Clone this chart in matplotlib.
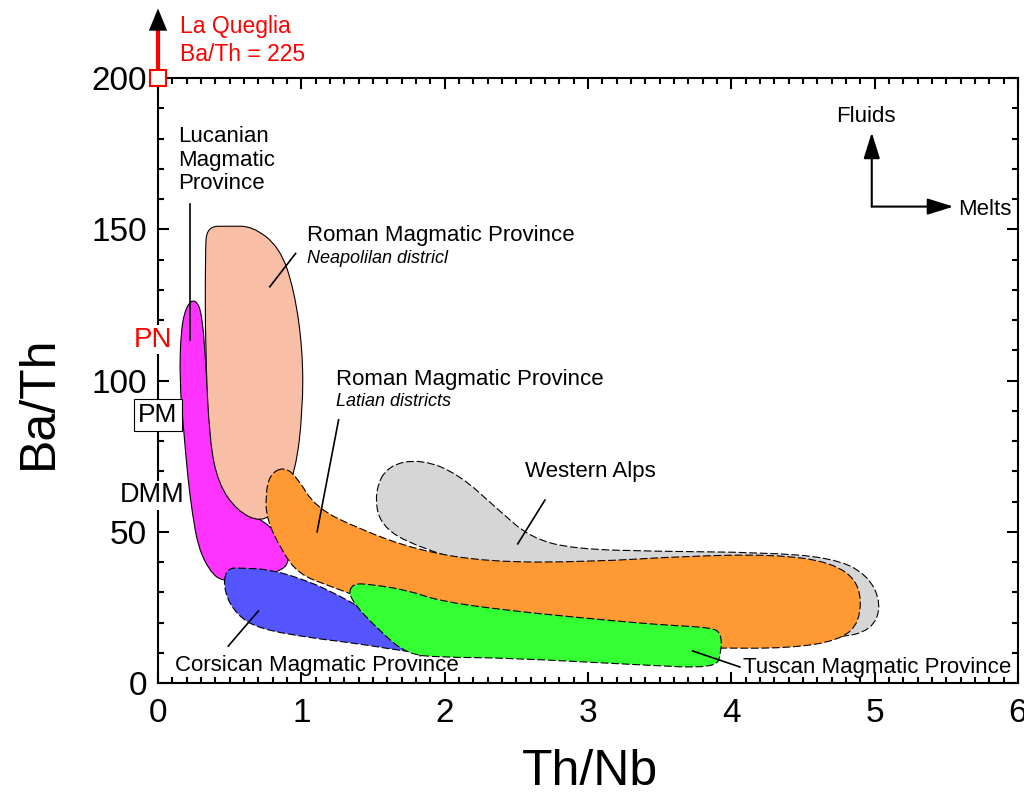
import numpy as np
import matplotlib.pyplot as plt
from matplotlib.path import Path
from matplotlib.patches import PathPatch
from matplotlib.ticker import MultipleLocator

plt.rcParams['font.family'] = ['Liberation Sans', 'DejaVu Sans']

# field outlines (Th/Nb, Ba/Th)
alps_x = [1.60, 1.84, 2.10, 2.38, 2.60, 2.90, 3.50, 4.20, 4.70, 4.95, 5.05, 4.98, 4.75, 4.40, 3.50, 2.50, 1.80, 1.55, 1.51]
alps_y = [72, 74, 69, 57, 48, 44.3, 43.5, 43.2, 41.5, 36, 26, 17.5, 14.8, 16, 25, 35, 45, 52, 63]

lucania_x = [0.26, 0.31, 0.34, 0.38, 0.55, 0.80, 0.92, 0.88, 0.60, 0.45, 0.36, 0.28, 0.24, 0.21, 0.18, 0.15, 0.16, 0.20]
lucania_y = [127, 122, 100, 75, 58, 52, 42, 37, 34.5, 33.5, 37, 45, 56, 67, 83, 100, 117, 125]

naples_x = [0.34, 0.50, 0.66, 0.85, 0.95, 1.01, 1.01, 0.96, 0.85, 0.72, 0.55, 0.42, 0.36, 0.33, 0.33]
naples_y = [151, 151, 151, 144, 130, 110, 90, 70, 58, 53, 57, 66, 80, 110, 142]

corsica_x = [0.47, 0.60, 0.78, 1.00, 1.20, 1.45, 1.70, 1.85, 1.72, 1.40, 1.05, 0.70, 0.55, 0.46]
corsica_y = [38, 38, 37.5, 34.5, 30.5, 24, 16, 10, 10.5, 13, 15, 18, 22.5, 30]

latium_x = [0.88, 0.97, 1.10, 1.40, 1.80, 2.30, 3.00, 3.70, 4.30, 4.70, 4.90, 4.90, 4.75, 4.40, 3.90, 3.00, 2.20, 1.60, 1.20, 0.98, 0.86, 0.76, 0.75, 0.78]
latium_y = [71.5, 68, 58, 51, 44, 40, 40, 42, 42.5, 40, 33, 20, 14, 11.5, 11.5, 12, 16, 25, 32, 36, 44, 54, 62, 69]

tuscany_x = [1.35, 1.50, 1.74, 1.97, 2.44, 2.90, 3.36, 3.60, 3.86, 3.93, 3.93, 3.89, 3.36, 2.44, 1.97, 1.74, 1.55, 1.33]
tuscany_y = [33, 32.5, 30.7, 27, 24, 21.8, 19.8, 19.0, 18.3, 16.5, 10, 4.8, 6, 8.3, 8.5, 9.5, 17, 28]

fields = [
    (alps_x, alps_y, '#d6d6d6', '--'),
    (lucania_x, lucania_y, '#ff33ff', '-'),
    (naples_x, naples_y, '#f9bfa6', '-'),
    (corsica_x, corsica_y, '#5555ff', '--'),
    (latium_x, latium_y, '#ff9933', '--'),
    (tuscany_x, tuscany_y, '#33ff33', '--'),
]

# mantle reference values on the Ba/Th axis
ref_names = ['PN', 'PM', 'DMM']
ref_y = [113.5, 88.5, 62]


def smooth_patch(xs, ys, **kw):
    # closed quadratic b-spline through the outline points
    pts = np.column_stack([xs, ys])
    mids = (pts + np.roll(pts, -1, axis=0)) / 2
    verts = [mids[-1]]
    codes = [Path.MOVETO]
    for p, m in zip(pts, mids):
        verts += [p, m]
        codes += [Path.CURVE3, Path.CURVE3]
    return PathPatch(Path(verts, codes), **kw)


fig = plt.figure(figsize=(10.24, 7.93), dpi=100)
ax = fig.add_axes([0.1543, 0.1387, 0.8398, 0.7629])

for i, (fx, fy, col, ls) in enumerate(fields):
    ls = (0, (7, 2.5)) if ls == '--' else '-'
    ax.add_patch(smooth_patch(fx, fy, facecolor=col, edgecolor='black',
                              lw=0.8, linestyle=ls, zorder=1 + i * 0.1))

# leader lines
leaders = [
    ([0.22, 0.22], [158.5, 113.5]),
    ([0.78, 0.96], [131, 142]),
    ([1.11, 1.26], [50, 87]),
    ([2.51, 2.70], [46, 60.5]),
    ([0.49, 0.70], [12.2, 23.8]),
    ([3.73, 4.06], [10.6, 5.3]),
]
for lx, ly in leaders:
    ax.plot(lx, ly, color='black', lw=1.2, zorder=2)

fs = 16
ax.text(0.14, 184, 'Lucanian\nMagmatic\nProvince', fontsize=fs, va='top', linespacing=1.15)
ax.text(1.04, 148, 'Roman Magmatic Province', fontsize=fs, va='center')
ax.text(1.04, 140.5, 'Neapolilan districl', fontsize=13, style='italic', va='center')
ax.text(1.24, 100.5, 'Roman Magmatic Province', fontsize=fs, va='center')
ax.text(1.24, 93, 'Latian districts', fontsize=13, style='italic', va='center')
ax.text(2.56, 70, 'Western Alps', fontsize=fs, va='center')
ax.text(0.12, 5.8, 'Corsican Magmatic Province', fontsize=fs, va='center')
ax.text(4.08, 5.0, 'Tuscan Magmatic Province', fontsize=fs, va='center')

# fluids / melts arrows
arrow_kw = dict(arrowstyle='-|>,head_length=0.8,head_width=0.25', color='black',
                lw=1.5, mutation_scale=20, shrinkA=0, shrinkB=0)
ax.annotate('', xy=(4.98, 182), xytext=(4.98, 157.5), arrowprops=arrow_kw)
ax.annotate('', xy=(5.55, 157.5), xytext=(4.98, 157.5), arrowprops=arrow_kw)
ax.text(4.94, 187.4, 'Fluids', fontsize=fs, ha='center', va='center')
ax.text(5.58, 156.4, 'Melts', fontsize=fs, va='center')

# PN / PM / DMM labels on the y axis
ax.text(-0.035, ref_y[0], ref_names[0], fontsize=20, color='red', ha='center', va='center',
        bbox=dict(boxstyle='square,pad=0.05', fc='white', ec='none'), zorder=5)
ax.text(0.0, ref_y[1], ref_names[1], fontsize=19, ha='center', va='center',
        bbox=dict(boxstyle='square,pad=0.15', fc='white', ec='black', lw=0.8), zorder=5)
ax.text(-0.04, ref_y[2], ref_names[2], fontsize=19.5, ha='center', va='center',
        bbox=dict(boxstyle='square,pad=0.05', fc='white', ec='none'), zorder=5)

# La Queglia sample, off scale
ax.plot([0, 0], [203, 216], color='red', lw=3, clip_on=False, zorder=6)
ax.annotate('', xy=(0, 223), xytext=(0, 215),
            arrowprops=dict(arrowstyle='-|>,head_length=0.8,head_width=0.33', color='black',
                            lw=0, mutation_scale=20, shrinkA=0, shrinkB=0),
            annotation_clip=False, zorder=6)
ax.plot([0], [200], marker='s', ms=12, mfc='white', mec='red', mew=1.5, clip_on=False, zorder=7)
ax.text(0.15, 221, 'La Queglia\nBa/Th = 225', fontsize=16.5, color='red', va='top', linespacing=1.3)

ax.set_xlim(0, 6)
ax.set_ylim(0, 200)
ax.xaxis.set_major_locator(MultipleLocator(1))
ax.xaxis.set_minor_locator(MultipleLocator(0.1))
ax.yaxis.set_major_locator(MultipleLocator(50))
ax.yaxis.set_minor_locator(MultipleLocator(10))
ax.tick_params(which='both', direction='in', top=True, right=True, width=1.5)
ax.tick_params(which='major', length=8, labelsize=24)
ax.tick_params(which='minor', length=4)
ax.tick_params(axis='x', pad=11)
ax.tick_params(axis='y', pad=8)
for sp in ax.spines.values():
    sp.set_linewidth(1.5)

ax.set_xlabel('Th/Nb', fontsize=36)
ax.set_ylabel('Ba/Th', fontsize=36)
ax.xaxis.set_label_coords(0.502, -0.147)
ax.xaxis.label.set_verticalalignment('center')
ax.yaxis.set_label_coords(-0.139, 0.464)
ax.yaxis.label.set_verticalalignment('center')

plt.savefig('out.png', dpi=100)
